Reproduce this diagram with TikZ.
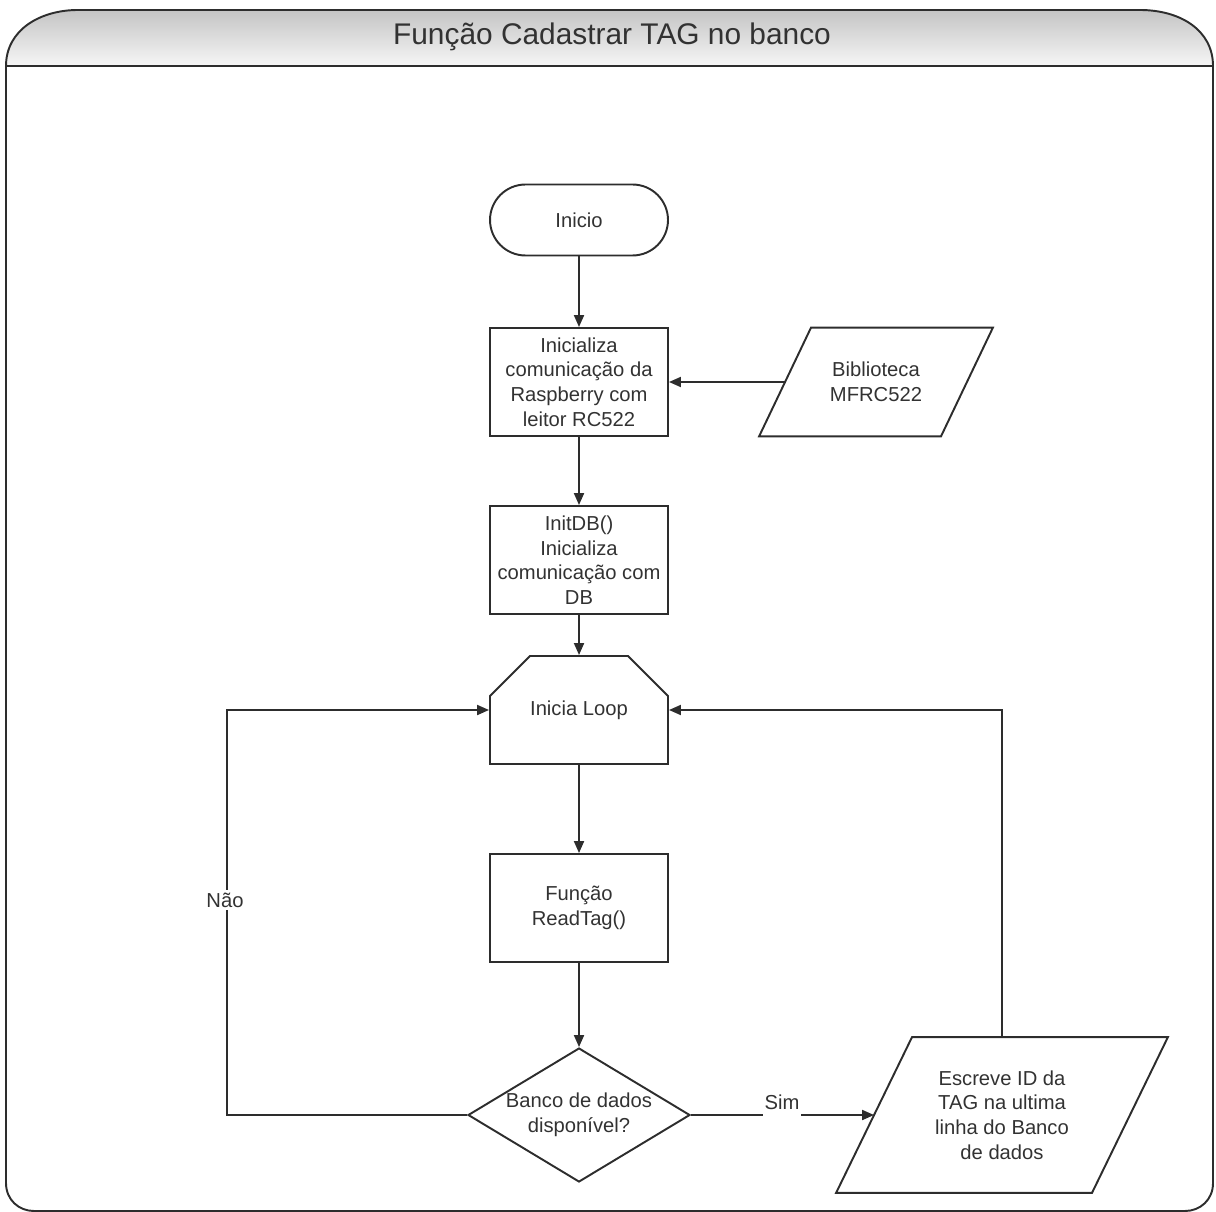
\documentclass[tikz,border=0pt]{standalone}
\usepackage{fontspec}
\setmainfont{Liberation Sans}
\usetikzlibrary{shapes.geometric, shapes.misc, arrows.meta, positioning, calc}
\definecolor{linegray}{RGB}{45, 45, 45}
\definecolor{textgray}{RGB}{50, 50, 50}
\definecolor{headtop}{RGB}{196, 196, 196}
\definecolor{headbot}{RGB}{246, 246, 246}
\tikzset{
    base/.style={
        draw=linegray, line width=1.1pt, text=textgray,
        font=\fontsize{11.5}{14}\selectfont, align=center, inner sep=2pt
    },
    termbox/.style={base, rectangle, rounded corners=0.71cm, minimum width=3.56cm, minimum height=1.42cm},
    procbox/.style={base, rectangle, minimum width=3.56cm, minimum height=2.16cm},
    loopbox/.style={base, chamfered rectangle, chamfered rectangle corners={north west, north east},
        chamfered rectangle xsep=0.52cm, chamfered rectangle ysep=0.54cm,
        minimum width=3.56cm, minimum height=2.16cm},
    iobox/.style={base, rectangle, draw=none},
    ioline/.style={draw=linegray, line width=1.1pt, line join=miter},
    decbox/.style={base, diamond, inner sep=0pt, shape aspect=1.66, minimum width=4.44cm, minimum height=2.68cm},
    arrow/.style={-{Triangle[length=2.4mm, width=2mm]}, line width=1.1pt, color=linegray},
    edgelbl/.style={fill=white, text=textgray, font=\fontsize{11.5}{14}\selectfont, inner xsep=1pt},
}

\begin{document}
\begin{tikzpicture}[x=0.02cm, y=-0.02cm]
    \useasboundingbox (0, 0) rectangle (1216, 1212);

    % frame and header
    \fill[top color=headtop, bottom color=headbot] (6, 66) .. controls (6, 30) and (40, 10) .. (78, 10)
        -- (1140, 10) .. controls (1180, 10) and (1213, 30) .. (1213, 66) -- cycle;
    \draw[linegray, line width=1.1pt] (6, 66) -- (1213, 66);
    \draw[linegray, line width=1.1pt] (6, 1183) -- (6, 66) .. controls (6, 30) and (40, 10) .. (78, 10)
        -- (1140, 10) .. controls (1180, 10) and (1213, 30) .. (1213, 66) -- (1213, 1183)
        .. controls (1213, 1200) and (1200, 1211) .. (1185, 1211) -- (34, 1211)
        .. controls (19, 1211) and (6, 1200) .. (6, 1183) -- cycle;
    \node[text=textgray, font=\fontsize{17}{20}\selectfont] (title) at (612, 37) {Função Cadastrar TAG no banco};

    % flow
    \node[termbox] (inicio) at (579, 220) {Inicio};
    \node[procbox] (initrc) at (579, 382) {Inicializa\\comunicação da\\Raspberry com\\leitor RC522};
    \node[iobox, minimum width=3.6cm, minimum height=2.14cm] (biblio) at (876, 382) {Biblioteca\\MFRC522};
    \node[procbox] (initdb) at (579, 560) {InitDB()\\Inicializa\\comunicação com\\DB};
    \node[loopbox] (loop) at (579, 710) {Inicia Loop};
    \node[procbox] (readtag) at (579, 908) {Função\\ReadTag()};
    \node[decbox] (dbok) at (579, 1115) {Banco de dados\\disponível?};
    \node[iobox, minimum width=5.08cm, minimum height=3.08cm] (escreve) at (1002, 1115) {Escreve ID da\\TAG na ultima\\linha do Banco\\de dados};

    % slanted outlines of the data boxes
    \draw[ioline] ([xshift=0.52cm]biblio.north west) -- ([xshift=0.52cm]biblio.north east)
        -- ([xshift=-0.52cm]biblio.south east) -- ([xshift=-0.52cm]biblio.south west) -- cycle;
    \draw[ioline] ([xshift=0.76cm]escreve.north west) -- ([xshift=0.76cm]escreve.north east)
        -- ([xshift=-0.76cm]escreve.south east) -- ([xshift=-0.76cm]escreve.south west) -- cycle;

    \coordinate (naobend) at (227, 710);

    \draw[arrow] (inicio) -- (initrc);
    \draw[arrow] (biblio.west) -- (initrc.east);
    \draw[arrow] (initrc) -- (initdb);
    \draw[arrow] (initdb) -- (loop);
    \draw[arrow] (loop) -- (readtag);
    \draw[arrow] (readtag) -- (dbok);
    \draw[arrow] (dbok.east) -- (escreve.west);
    \draw[arrow] (dbok.west) -| (naobend) -- (loop.west);
    \draw[arrow] (escreve.north) |- (loop.east);

    \node[edgelbl, minimum height=0.66cm] (sim) at (782, 1102) {Sim};
    \node[edgelbl, inner ysep=1.5pt] (nao) at (225, 900) {Não};
\end{tikzpicture}
\end{document}
